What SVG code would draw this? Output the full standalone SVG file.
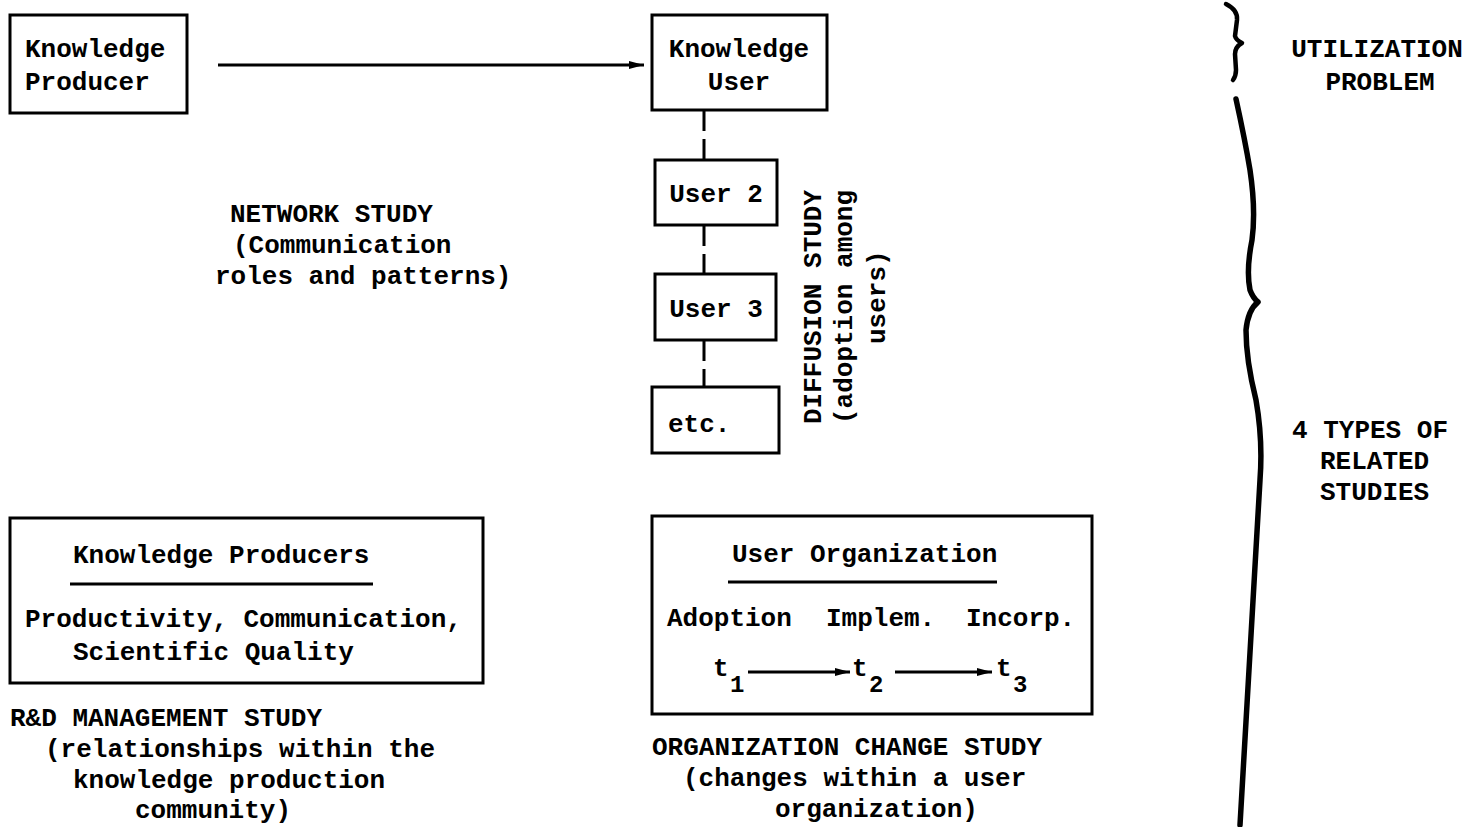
<svg xmlns="http://www.w3.org/2000/svg" width="1467" height="827" viewBox="0 0 1467 827">
<defs>
<style>
text{font-family:"Liberation Mono","Courier New",monospace;font-weight:bold;font-size:26px;fill:#000}
.box{fill:none;stroke:#000;stroke-width:3}
.c{stroke:#000;stroke-width:3;fill:none}
.d{stroke:#000;stroke-width:3;fill:none;stroke-dasharray:20 8}
.br{stroke:#000;fill:none;stroke-linecap:round;stroke-linejoin:round}
.sub{font-size:24px}
</style>
<marker id="ah" viewBox="0 0 10 6" refX="10" refY="3" markerWidth="5" markerHeight="3" markerUnits="strokeWidth" orient="auto">
<path d="M0,0.4 L10,3 L0,5.6 Z" fill="#000"/>
</marker>
</defs>
<rect width="1467" height="827" fill="#fff"/>

<g id="knowledge-producer">
<rect class="box" x="10" y="15" width="177" height="98"/>
<text x="25" y="57">Knowledge</text>
<text x="25" y="90">Producer</text>
</g>

<g id="knowledge-user">
<rect class="box" x="652" y="15" width="175" height="95"/>
<text x="739" y="57" text-anchor="middle">Knowledge</text>
<text x="739" y="90" text-anchor="middle">User</text>
</g>

<g id="user2">
<rect class="box" x="655" y="160" width="122" height="65"/>
<text x="716" y="202" text-anchor="middle">User 2</text>
</g>

<g id="user3">
<rect class="box" x="655" y="274" width="121" height="66"/>
<text x="716" y="317" text-anchor="middle">User 3</text>
</g>

<g id="etc">
<rect class="box" x="652" y="387" width="127" height="66"/>
<text x="668" y="432">etc.</text>
</g>

<g id="diffusion-label">
<text transform="translate(821,424) rotate(-90)">DIFFUSION STUDY</text>
<text transform="translate(852,424) rotate(-90)">(adoption among</text>
<text transform="translate(885,344) rotate(-90)">users)</text>
</g>

<g id="network-label">
<text x="230" y="222">NETWORK STUDY</text>
<text x="233" y="253">(Communication</text>
<text x="215" y="284">roles and patterns)</text>
</g>

<g id="knowledge-producers">
<rect class="box" x="10" y="518" width="473" height="165"/>
<text x="73" y="563">Knowledge Producers</text>
<line class="c" x1="70" y1="584" x2="373" y2="584" stroke-width="2.5"/>
<text x="25" y="627">Productivity, Communication,</text>
<text x="73" y="660">Scientific Quality</text>
</g>

<g id="rd-label">
<text x="10" y="726">R&amp;D MANAGEMENT STUDY</text>
<text x="45" y="757">(relationships within the</text>
<text x="73" y="788">knowledge production</text>
<text x="135" y="818">community)</text>
</g>

<g id="user-organization">
<rect class="box" x="652" y="516" width="440" height="198"/>
<text x="732" y="562">User Organization</text>
<line class="c" x1="728" y1="582" x2="997" y2="582" stroke-width="2.5"/>
<text x="667" y="626">Adoption</text>
<text x="826" y="626">Implem.</text>
<text x="966" y="626">Incorp.</text>
<text x="713" y="676">t</text><text class="sub" x="730" y="692">1</text>
<text x="852" y="676">t</text><text class="sub" x="869" y="692">2</text>
<text x="996" y="676">t</text><text class="sub" x="1013" y="692">3</text>
</g>

<g id="org-change-label">
<text x="652" y="755">ORGANIZATION CHANGE STUDY</text>
<text x="683" y="786">(changes within a user</text>
<text x="775" y="817">organization)</text>
</g>

<g id="utilization-label">
<text x="1377" y="57" text-anchor="middle">UTILIZATION</text>
<text x="1380" y="90" text-anchor="middle">PROBLEM</text>
</g>

<g id="types-label">
<text x="1292" y="438">4 TYPES OF</text>
<text x="1320" y="469">RELATED</text>
<text x="1320" y="500">STUDIES</text>
</g>

<g id="braces">
<path class="br" stroke-width="4.5" d="M1226,4 Q1238,10 1237,20 L1235,36 Q1236,40 1242,43 Q1235,47 1235,54 L1236,70 Q1236,76 1233,80"/>
<path class="br" stroke-width="5.5" d="M1236,99 Q1245,140 1250,170 Q1256,210 1252,240 Q1246,270 1250,290 Q1253,298 1258,302 Q1248,310 1246,330 Q1246,360 1256,400 Q1263,440 1260,480 Q1250,650 1240,825"/>
</g>

<g id="connectors">
<line class="c" x1="218" y1="65" x2="644" y2="65" marker-end="url(#ah)"/>
<line class="d" x1="704" y1="111" x2="704" y2="159"/>
<line class="d" x1="704" y1="226" x2="704" y2="273"/>
<line class="d" x1="704" y1="341" x2="704" y2="386"/>
<line class="c" x1="748" y1="672" x2="850" y2="672" marker-end="url(#ah)"/>
<line class="c" x1="895" y1="672" x2="992" y2="672" marker-end="url(#ah)"/>
</g>
</svg>
